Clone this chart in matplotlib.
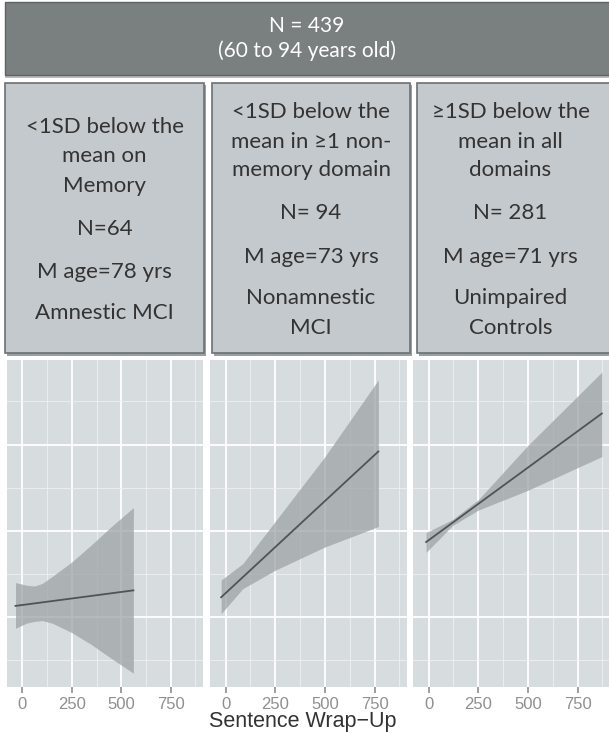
import numpy as np
import matplotlib
matplotlib.use('Agg')
import matplotlib.pyplot as plt
from matplotlib.patches import Rectangle

W, H = 609, 733

# header / box text
banner_lines = ['N = 439', '(60 to 94 years old)']
box_groups = [
    [['<1SD below the', 'mean on', 'Memory'], ['N=64'], ['M age=78 yrs'], ['Amnestic MCI']],
    [['<1SD below the', 'mean in ≥1 non-', 'memory domain'], ['N= 94'], ['M age=73 yrs'], ['Nonamnestic', 'MCI']],
    [['≥1SD below the', 'mean in all', 'domains'], ['N= 281'], ['M age=71 yrs'], ['Unimpaired', 'Controls']],
]

# fitted lines and confidence ribbons, one per group
x_ticks = [0, 250, 500, 750]
x_label = 'Sentence Wrap\u2212Up'

p1_x = [-35, 20, 60, 100, 150, 250, 350, 450, 561]
p1_upper = [0.40, 0.37, 0.36, 0.39, 0.47, 0.64, 0.84, 1.05, 1.27]
p1_lower = [-0.13, -0.07, -0.05, -0.04, -0.07, -0.18, -0.32, -0.48, -0.65]
p1_fit_x = [-35, 561]
p1_fit_y = [0.13, 0.31]

p2_x = [-22, 87, 247, 497, 769]
p2_upper = [0.43, 0.62, 1.10, 1.85, 2.75]
p2_lower = [0.04, 0.33, 0.54, 0.81, 1.05]
p2_fit_x = [-22, 769]
p2_fit_y = [0.23, 1.92]

p3_x = [-12, 120, 250, 500, 872]
p3_upper = [0.98, 1.13, 1.36, 1.99, 2.84]
p3_lower = [0.75, 1.06, 1.24, 1.47, 1.86]
p3_fit_x = [-12, 872]
p3_fit_y = [0.87, 2.36]

panels = [
    (p1_x, p1_upper, p1_lower, p1_fit_x, p1_fit_y),
    (p2_x, p2_upper, p2_lower, p2_fit_x, p2_fit_y),
    (p3_x, p3_upper, p3_lower, p3_fit_x, p3_fit_y),
]


def rect(x0, y0, x1, y1):
    # pixel box (top-left origin) -> figure fraction
    return [x0 / W, 1 - y1 / H, (x1 - x0) / W, (y1 - y0) / H]


def fx(x):
    return x / W


def fy(y):
    return 1 - y / H


fig = plt.figure(figsize=(W / 100, H / 100), dpi=100)
fig.patch.set_facecolor('white')
box_font = ['Lato', 'DejaVu Sans']
sans = ['Liberation Sans', 'DejaVu Sans']

# top banner
fig.patches.append(Rectangle((fx(5), fy(78)), fx(610), fy(75) - fy(78), transform=fig.transFigure,
                             facecolor='#b9bdbe', edgecolor='none'))
fig.patches.append(Rectangle((fx(5), fy(75)), fx(610), fy(2) - fy(75), transform=fig.transFigure,
                             facecolor='#7a807f', edgecolor='#5e6363', lw=1.0))
fig.text(fx(307), fy(26), banner_lines[0], ha='center', va='center', color='white',
         fontsize=15, family=box_font)
fig.text(fx(307), fy(51), banner_lines[1], ha='center', va='center', color='white',
         fontsize=15, family=box_font)

# group boxes
box_x = [(5, 204), (212, 410), (417, 640)]
line_y = [
    [127, 156, 186, 229, 272, 313],
    [112, 142, 170, 213, 257, 298, 328],
    [112, 142, 170, 213, 257, 298, 328],
]
for (bx0, bx1), groups, ys in zip(box_x, box_groups, line_y):
    fig.patches.append(Rectangle((fx(bx0 + 2), fy(356)), fx(bx1 - bx0), fy(85) - fy(356),
                                 transform=fig.transFigure, facecolor='#9a9fa2', edgecolor='none'))
    fig.patches.append(Rectangle((fx(bx0), fy(353)), fx(bx1 - bx0), fy(83) - fy(353),
                                 transform=fig.transFigure, facecolor='#c4c9cd',
                                 edgecolor='#6c7173', lw=1.2))
    lines = [s for g in groups for s in g]
    cx = (bx0 + bx1) / 2 if bx1 < 609 else (bx0 + 604) / 2
    for s, y in zip(lines, ys):
        fig.text(fx(cx), fy(y), s, ha='center', va='center', color='#333333',
                 fontsize=16, family=box_font)

# facet panels
panel_x = [(7, 203), (210, 407), (413, 610)]
for (px0, px1), (xs, up, lo, fxs, fys) in zip(panel_x, panels):
    ax = fig.add_axes(rect(px0, 360, px1, 687))
    ax.set_facecolor('#d7dcde')
    ax.set_xlim(-78, 913)
    ax.set_ylim(-0.81, 2.98)
    ax.set_xticks(x_ticks)
    ax.set_xticks([125, 375, 625, 875], minor=True)
    ax.set_yticks([0, 1, 2])
    ax.set_yticks([-0.5, 0.5, 1.5, 2.5], minor=True)
    ax.grid(which='major', color='white', lw=1.3)
    ax.grid(which='minor', color='#eef0f1', lw=0.6)
    ax.set_axisbelow(True)
    for sp in ax.spines.values():
        sp.set_visible(False)
    ax.tick_params(axis='y', which='both', left=False, labelleft=False)
    ax.tick_params(axis='x', which='minor', bottom=False)
    ax.tick_params(axis='x', which='major', colors='#8f8f8f', length=4, width=1.2,
                   labelsize=12, pad=3)
    for t in ax.get_xticklabels():
        t.set_family(sans)
    ax.fill_between(xs, lo, up, color='#9ea3a6', alpha=0.75, lw=0, zorder=3)
    ax.plot(fxs, fys, color='#4f5456', lw=1.3, zorder=4)

fig.text(fx(303), fy(721), x_label, ha='center', va='center', color='#333333',
         fontsize=15.5, family=sans)

fig.savefig('out.png', dpi=100)
